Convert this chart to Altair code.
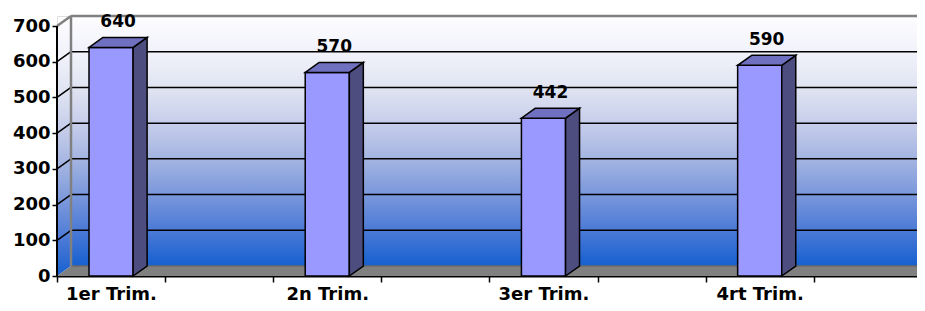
import altair as alt
import pandas as pd

categories = ["1er Trim.", "2n Trim.", "3er Trim.", "4rt Trim."]
values = [640, 570, 442, 590]
y_ticks = [0, 100, 200, 300, 400, 500, 600, 700]
grid_values = [100, 200, 300, 400, 500, 600]

Y_MAX = 700
SLOTS = 2 * len(categories)   # each category occupies two slots (label slot + empty)
X_END = SLOTS - 0.045         # right edge of visible plot (slightly clipped like the original)
DX = 0.1295                   # depth offset in x units
DY = 28                       # depth offset in y units
BAR_L, BAR_R = 0.296, 0.704   # bar front within its slot

FONT = "DejaVu Sans"

xs = alt.Scale(domain=[0, X_END], nice=False, zero=False)
ys = alt.Scale(domain=[0, Y_MAX + DY], nice=False)

bg = alt.Gradient(
    gradient="linear",
    stops=[
        alt.GradientStop(color="#FDFDFF", offset=0),
        alt.GradientStop(color="#F1F2FA", offset=0.15),
        alt.GradientStop(color="#DEE2F1", offset=0.3),
        alt.GradientStop(color="#C2CAE9", offset=0.45),
        alt.GradientStop(color="#9CAFE0", offset=0.6),
        alt.GradientStop(color="#6F90DA", offset=0.75),
        alt.GradientStop(color="#3C72D4", offset=0.9),
        alt.GradientStop(color="#1560D0", offset=1),
    ],
    x1=0, x2=0, y1=0, y2=1,
)

# ---------- tables ----------
bars = pd.DataFrame({
    "name": categories,
    "v": values,
    "slot": [2 * i for i in range(len(categories))],
})
bars["x0"] = bars["slot"] + BAR_L
bars["x1"] = bars["slot"] + BAR_R
bars["xc"] = (bars["x0"] + bars["x1"] + DX) / 2
bars["vt"] = bars["v"] + DY

side_rows, top_rows = [], []
for _, r in bars.iterrows():
    side_rows.append({"name": r["name"], "x": r["x1"], "y": 0, "y2": r["v"]})
    side_rows.append({"name": r["name"], "x": r["x1"] + DX, "y": DY, "y2": r["v"] + DY})
    top_rows.append({"name": r["name"], "y": r["v"], "x": r["x0"], "x2": r["x1"]})
    top_rows.append({"name": r["name"], "y": r["v"] + DY, "x": r["x0"] + DX, "x2": r["x1"] + DX})
side = pd.DataFrame(side_rows)
top = pd.DataFrame(top_rows)

grid = pd.DataFrame({"v": grid_values})
grid["vb"] = grid["v"] + DY
grid["xa"] = 0.0
grid["xb"] = DX
grid["xe"] = float(X_END)

walls_side = pd.DataFrame({"x": [0, DX], "y": [0, DY], "y2": [Y_MAX, Y_MAX + DY]})
wall_back = pd.DataFrame({"x": [DX], "x2": [X_END], "y": [DY], "y2": [Y_MAX + DY]})
floor = pd.DataFrame({"y": [0, DY], "x": [0, DX], "x2": [X_END, X_END]})
edges = pd.DataFrame({
    "x": [DX, DX, 0.0],
    "x2": [DX, float(X_END), DX],
    "y": [DY, Y_MAX + DY, Y_MAX],
    "y2": [Y_MAX + DY, Y_MAX + DY, Y_MAX + DY],
})
front_axis = pd.DataFrame({"x": [0.0], "y": [0], "y2": [Y_MAX]})

label_arr = "[" + ",".join("'" + c + "'" for c in categories) + "]"
label_expr = f"(datum.value % 2 == 0 && datum.value < {SLOTS}) ? {label_arr}[datum.value / 2] : ''"

x_axis = alt.Axis(
    values=list(range(SLOTS)), labelExpr=label_expr, title=None, grid=False,
    domain=True, domainColor="black", domainWidth=2,
    ticks=True, tickColor="black", tickSize=6, tickWidth=1.5,
    labelFont=FONT, labelFontSize=18, labelFontWeight="bold", labelColor="black",
    labelAlign="center", labelOffset=54, labelPadding=3, labelFlush=False,
    labelOverlap=False, labelBound=False,
)
y_axis = alt.Axis(
    values=y_ticks, title=None, grid=False, domain=False,
    ticks=True, tickColor="black", tickSize=5, tickWidth=1.5,
    labelFont=FONT, labelFontSize=18, labelFontWeight="bold", labelColor="black",
    labelPadding=2, labelOverlap=False, labelBound=False, labelFlush=False,
)


def X(f):
    return alt.X(f, scale=xs, axis=x_axis)


def Y(f):
    return alt.Y(f, scale=ys, axis=y_axis)


side_wall = alt.Chart(walls_side).mark_area(color=bg, orient="vertical").encode(
    x=X("x:Q"), y=Y("y:Q"), y2="y2:Q",
)
back_wall = alt.Chart(wall_back).mark_rect(color=bg).encode(
    x=X("x:Q"), x2="x2:Q", y=Y("y:Q"), y2="y2:Q",
)
floor_l = alt.Chart(floor).mark_area(color="#808080", orient="horizontal").encode(
    y=Y("y:Q"), x=X("x:Q"), x2="x2:Q",
)
floor_edge = alt.Chart(floor.iloc[[1]]).mark_rule(color="#6a6a6a", strokeWidth=1.5).encode(
    y=Y("y:Q"), x=X("x:Q"), x2="x2:Q",
)
edge_l = alt.Chart(edges).mark_rule(color="#808080", strokeWidth=2.5).encode(
    x=X("x:Q"), x2="x2:Q", y=Y("y:Q"), y2="y2:Q",
)
grid_back = alt.Chart(grid).mark_rule(color="black", strokeWidth=1.5).encode(
    x=X("xb:Q"), x2="xe:Q", y=Y("vb:Q"),
)
grid_side = alt.Chart(grid).mark_rule(color="black", strokeWidth=1.5).encode(
    x=X("xa:Q"), x2="xb:Q", y=Y("v:Q"), y2="vb:Q",
)
front_axis_l = alt.Chart(front_axis).mark_rule(color="black", strokeWidth=2).encode(
    x=X("x:Q"), y=Y("y:Q"), y2="y2:Q",
)

bar_front = alt.Chart(bars).mark_rect(color="#9999FF", stroke="black", strokeWidth=1.5).encode(
    x=X("x0:Q"), x2="x1:Q", y=Y("v:Q"), y2=alt.datum(0),
)
bar_side = alt.Chart(side).mark_area(color="#4D4D80", stroke="black", strokeWidth=1.5,
                                     orient="vertical").encode(
    x=X("x:Q"), y=Y("y:Q"), y2="y2:Q", detail="name:N",
)
bar_top = alt.Chart(top).mark_area(color="#7070C0", stroke="black", strokeWidth=1.5,
                                   orient="horizontal").encode(
    y=Y("y:Q"), x=X("x:Q"), x2="x2:Q", detail="name:N",
)
value_labels = alt.Chart(bars).mark_text(
    font=FONT, fontSize=17, fontWeight="bold", color="black", baseline="middle", dy=-15,
).encode(
    x=X("xc:Q"), y=Y("vt:Q"), text="v:Q",
)

chart = alt.layer(
    side_wall, back_wall, floor_l, floor_edge, grid_back, grid_side, edge_l,
    bar_front, bar_side, bar_top, front_axis_l, value_labels,
).properties(
    width=860, height=260,
    autosize=alt.AutoSizeParams(type="none"),
    padding={"left": 49, "top": 8, "right": 0, "bottom": 27},
).configure_view(stroke=None).configure(background="white")

chart.save("out.html", embed_options={"renderer": "svg", "actions": False})
